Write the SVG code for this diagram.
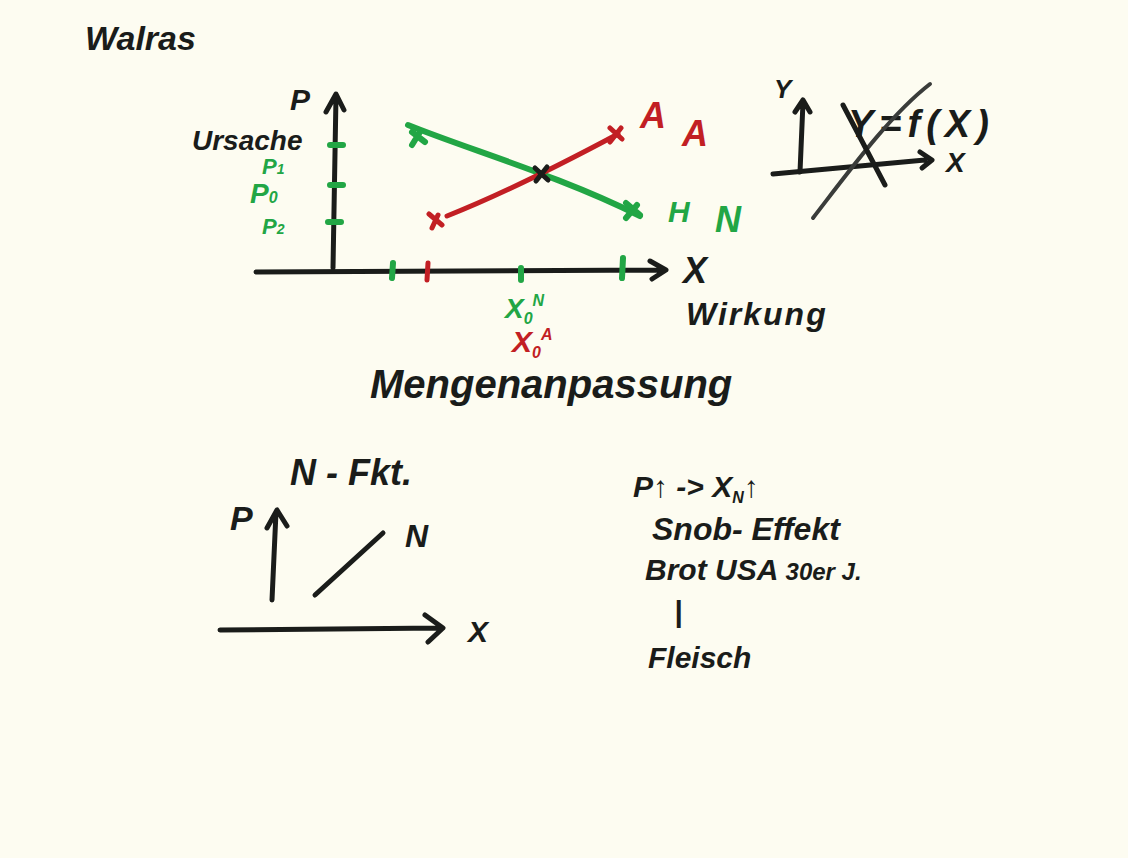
<svg xmlns="http://www.w3.org/2000/svg" width="1128" height="858" viewBox="0 0 1128 858">
<style>
.ink{fill:none;stroke:#1a1c1a;stroke-width:5;stroke-linecap:round;stroke-linejoin:round}
.gray{fill:none;stroke:#3a3c3a;stroke-width:4;stroke-linecap:round}
.grn{fill:none;stroke:#22a645;stroke-width:6;stroke-linecap:round;stroke-linejoin:round}
.red{fill:none;stroke:#c21f24;stroke-width:5;stroke-linecap:round;stroke-linejoin:round}
.t{font-family:"Liberation Sans",Arial,sans-serif;font-weight:bold;font-style:italic;fill:#1a1c1a}
.tg{font-family:"Liberation Sans",Arial,sans-serif;font-weight:bold;font-style:italic;fill:#22a645}
.tr{font-family:"Liberation Sans",Arial,sans-serif;font-weight:bold;font-style:italic;fill:#c21f24}
</style>
<rect width="1128" height="858" fill="#fdfcf1"/>
<g id="titles">
<text class="t" x="85" y="50" font-size="34">Walras</text>
<text class="t" x="290" y="110" font-size="30">P</text>
<text class="t" x="192" y="150" font-size="28">Ursache</text>
<text class="tg" x="262" y="174" font-size="22">P<tspan font-size="14">1</tspan></text>
<text class="tg" x="250" y="203" font-size="28">P<tspan font-size="16">0</tspan></text>
<text class="tg" x="262" y="234" font-size="22">P<tspan font-size="14">2</tspan></text>
<text class="t" x="683" y="283" font-size="36">X</text>
<text class="t" x="686" y="325" font-size="32" letter-spacing="2">Wirkung</text>
<text class="tg" x="505" y="318" font-size="28">X<tspan font-size="16" dy="6">0</tspan><tspan font-size="16" dy="-18">N</tspan></text>
<text class="tr" x="512" y="352" font-size="30">X<tspan font-size="16" dy="6">0</tspan><tspan font-size="16" dy="-18">A</tspan></text>
<text class="t" x="370" y="398" font-size="40">Mengenanpassung</text>
<text class="tr" x="640" y="128" font-size="36">A</text>
<text class="tr" x="682" y="146" font-size="36">A</text>
<text class="tg" x="668" y="222" font-size="30">H</text>
<text class="tg" x="715" y="232" font-size="36">N</text>
</g>
<g id="chart-top">
<path class="ink" d="M333 268 L336 96 M326 112 L336 94 L344 110"/>
<path class="ink" d="M256 272 L660 270 M650 261 L666 270 L652 279"/>
<path class="grn" d="M330 145 L343 145 M330 185 L343 185 M328 222 L341 222"/>
<path class="grn" d="M393 263 L392 278 M521 268 L521 280 M623 258 L622 278"/>
<path class="red" d="M428 263 L427 280"/>
<path class="grn" d="M408 125 C 470 150, 560 176, 640 216"/>
<path class="grn" d="M412 132 L425 142 M420 132 L412 145 M626 203 L640 215 M637 205 L626 218"/>
<path class="red" d="M447 216 C 500 195, 560 165, 618 134"/>
<path class="red" d="M429 214 L442 225 M438 215 L432 228 M610 128 L622 139 M621 128 L610 142"/>
<path class="ink" d="M535 168 L548 180 M547 167 L536 181" stroke-width="4"/>
</g>
<g id="chart-fx">
<path class="ink" d="M800 172 L803 102 M795 112 L803 100 M810 112 L803 100"/>
<path class="ink" d="M773 174 L925 160 M920 152 L932 160 L922 168"/>
<text class="t" x="774" y="98" font-size="26">Y</text>
<text class="t" x="848" y="137" font-size="38" letter-spacing="6">Y=f(X)</text>
<text class="t" x="946" y="172" font-size="28">X</text>
<path class="gray" d="M813 218 C 850 170, 890 115, 930 84"/>
<path class="ink" d="M843 105 L885 185"/>
</g>
<g id="chart-bottom">
<text class="t" x="290" y="485" font-size="36">N - Fkt.</text>
<text class="t" x="230" y="530" font-size="34">P</text>
<path class="ink" d="M272 600 L276 512 M267 528 L277 510 M287 526 L277 510"/>
<path class="ink" d="M220 630 L440 628 M425 615 L443 628 L428 642"/>
<text class="t" x="468" y="642" font-size="30">X</text>
<path class="ink" d="M315 595 L383 533"/>
<text class="t" x="405" y="547" font-size="32">N</text>
</g>
<g id="notes">
<text class="t" x="633" y="497" font-size="30">P↑ -&gt; X<tspan font-size="16" dy="6">N</tspan><tspan dy="-6">↑</tspan></text>
<text class="t" x="652" y="540" font-size="32">Snob- Effekt</text>
<text class="t" x="645" y="580" font-size="30">Brot  USA <tspan font-size="24">30er J.</tspan></text>
<text class="t" x="674" y="622" font-size="30">|</text>
<text class="t" x="648" y="668" font-size="30">Fleisch</text>
</g>
</svg>
